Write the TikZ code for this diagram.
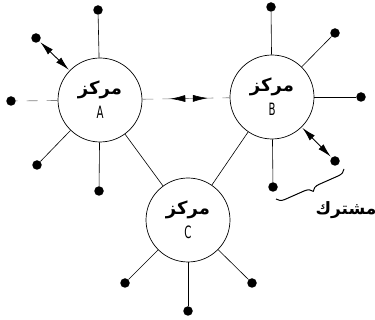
\documentclass[tikz,border=0pt]{standalone}
\usepackage{fontspec}
\usepackage{tikz}
\usetikzlibrary{arrows.meta,positioning,calc,decorations.markings,decorations.pathreplacing}
\newfontfamily\arabicfont[Script=Arabic]{DejaVu Sans}
\newfontfamily\latfont[FakeStretch=0.6]{DejaVu Sans}
\TeXXeTstate=1

\begin{document}
\begin{tikzpicture}[
    x=1pt, y=-1pt,
    hub/.style={circle, draw, line width=0.7pt, minimum size=84pt, inner sep=0pt, align=center},
    term/.style={circle, fill, inner sep=0pt, minimum size=9.5pt},
    spoke/.style={line width=0.6pt},
    faint/.style={line width=0.6pt, gray, dash pattern=on 11pt off 9pt},
    duplex/.style={line width=0.9pt, {Latex[length=14pt,width=7pt]}-{Latex[length=14pt,width=7pt]}, shorten <=1pt, shorten >=1pt}
]
    \useasboundingbox (0,0) rectangle (375,320);

    % Hubs
    \node[hub] (A) at (100,100) {{\fontsize{18}{20}\selectfont\arabicfont\bfseries\beginR مركز\endR}\\[6pt]{\fontsize{17}{18}\selectfont\latfont A}};
    \node[hub] (B) at (272,97) {{\fontsize{18}{20}\selectfont\arabicfont\bfseries\beginR مركز\endR}\\[6pt]{\fontsize{17}{18}\selectfont\latfont B}};
    \node[hub] (C) at (188,220) {{\fontsize{18}{20}\selectfont\arabicfont\bfseries\beginR مركز\endR}\\[6pt]{\fontsize{17}{18}\selectfont\latfont C}};

    % Terminals of A
    \node[term] (a1) at (98,10) {};
    \node[term] (a2) at (36,38) {};
    \node[term] (a3) at (11,101) {};
    \node[term] (a4) at (37,165) {};
    \node[term] (a5) at (99,191) {};

    % Terminals of B
    \node[term] (b1) at (271,7) {};
    \node[term] (b2) at (335,33) {};
    \node[term] (b3) at (361,97) {};
    \node[term] (b4) at (335,161) {};
    \node[term] (b5) at (273,187) {};

    % Terminals of C
    \node[term] (c1) at (125,283) {};
    \node[term] (c2) at (188,311) {};
    \node[term] (c3) at (252,283) {};

    % Spokes
    \draw[spoke] (a1) -- (A);
    \draw[duplex] (a2) -- (A);
    \draw[faint] (A) -- (a3);
    \draw[spoke] (a4) -- (A);
    \draw[spoke] (a5) -- (A);

    \draw[spoke] (b1) -- (B);
    \draw[spoke] (b2) -- (B);
    \draw[spoke] (b3) -- (B);
    \draw[duplex] (B) -- (b4);
    \draw[spoke] (b5) -- (B);

    \draw[spoke] (c1) -- (C);
    \draw[spoke] (c2) -- (C);
    \draw[spoke] (c3) -- (C);

    % Trunk lines
    \draw[faint, postaction={decorate, decoration={markings,
        mark=at position 0.32 with {\arrowreversed[black]{Latex[length=15pt,width=7pt]}},
        mark=at position 0.75 with {\arrow[black]{Latex[length=15pt,width=7pt]}}}}] (A) -- (B);
    \draw[spoke] (A) -- (C);
    \draw[spoke] (B) -- (C);

    % Shared line
    \coordinate (br1) at (344,169);
    \coordinate (br2) at (276,199);
    \draw[line width=1pt, decorate, decoration={brace, amplitude=8pt}] (br1) -- (br2);
    \node[font=\fontsize{17}{18}\selectfont\bfseries] (shared) at (346,210) {\arabicfont\beginR مشترك\endR};
\end{tikzpicture}
\end{document}
